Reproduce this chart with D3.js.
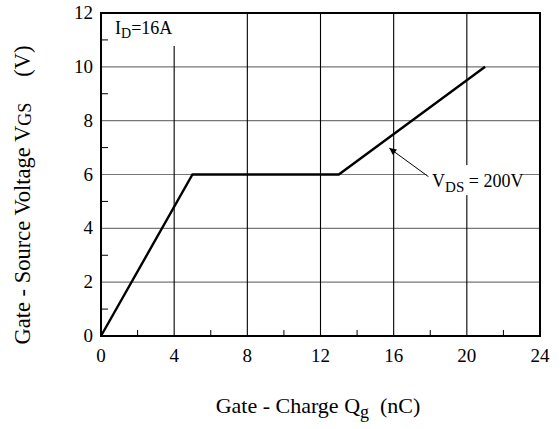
<!DOCTYPE html>
<html>
<head>
<meta charset="utf-8">
<script src="https://cdn.jsdelivr.net/npm/d3@7"></script>
<style>
  body { margin: 0; background: #fff; }
</style>
</head>
<body>
<div id="chart"></div>
<script>
// data
var charge = [0, 5, 13, 21];      // Qg (nC)
var voltage = [0, 6, 6, 10];      // VGS (V)
var xTicks = [0, 4, 8, 12, 16, 20, 24];
var yTicks = [0, 2, 4, 6, 8, 10, 12];
var xMinor = [2, 6, 10, 14, 18, 22];
var yMinor = [1, 3, 5, 7, 9, 11];
var arrowFrom = [17.9, 5.92];
var arrowTo = [15.76, 6.98];

var width = 560, height = 429;
var margin = {left: 101, top: 13, right: 20, bottom: 93};
var w = width - margin.left - margin.right;
var h = height - margin.top - margin.bottom;

var svg = d3.select("#chart").append("svg")
  .attr("width", width).attr("height", height)
  .attr("font-family", "'Liberation Serif', 'Times New Roman', Times, serif");

var defs = svg.append("defs");
defs.append("marker")
  .attr("id", "arr").attr("viewBox", "0 0 10 10")
  .attr("refX", 10).attr("refY", 5)
  .attr("markerWidth", 9).attr("markerHeight", 7)
  .attr("markerUnits", "userSpaceOnUse")
  .attr("orient", "auto")
  .append("path").attr("d", "M0,0 L10,5 L0,10 z").attr("fill", "#000");

var g = svg.append("g").attr("transform", `translate(${margin.left},${margin.top})`);

var x = d3.scaleLinear().domain([0, 24]).range([0, w]);
var y = d3.scaleLinear().domain([0, 12]).range([h, 0]);

// grid
g.append("g").selectAll("line")
  .data(yTicks.slice(1, -1)).enter().append("line")
  .attr("x1", 0).attr("x2", w)
  .attr("y1", d => y(d)).attr("y2", d => y(d))
  .attr("stroke", "#777").attr("stroke-width", 1.2);

g.append("g").selectAll("line")
  .data(xTicks.slice(1, -1)).enter().append("line")
  .attr("y1", 0).attr("y2", h)
  .attr("x1", d => x(d)).attr("x2", d => x(d))
  .attr("stroke", "#000").attr("stroke-width", 1.1);

// minor ticks
g.append("g").selectAll("line")
  .data(yMinor).enter().append("line")
  .attr("x1", 0).attr("x2", 7)
  .attr("y1", d => y(d)).attr("y2", d => y(d))
  .attr("stroke", "#000").attr("stroke-width", 1);

g.append("g").selectAll("line")
  .data(xMinor).enter().append("line")
  .attr("y1", h).attr("y2", h - 6)
  .attr("x1", d => x(d)).attr("x2", d => x(d))
  .attr("stroke", "#000").attr("stroke-width", 1);

// white boxes behind the labels
g.append("rect").attr("x", 9).attr("y", 1).attr("width", 70).attr("height", 32).attr("fill", "#fff");
g.append("rect").attr("x", x(17.8)).attr("y", y(6.35)).attr("width", 96).attr("height", 30).attr("fill", "#fff");

// curve
var line = d3.line().x(d => x(d[0])).y(d => y(d[1]));
g.append("path")
  .datum(d3.zip(charge, voltage))
  .attr("d", line)
  .attr("fill", "none").attr("stroke", "#000").attr("stroke-width", 2.4)
  .attr("stroke-linejoin", "miter");

// arrow
g.append("line")
  .attr("x1", x(arrowFrom[0])).attr("y1", y(arrowFrom[1]))
  .attr("x2", x(arrowTo[0])).attr("y2", y(arrowTo[1]))
  .attr("stroke", "#000").attr("stroke-width", 1)
  .attr("marker-end", "url(#arr)");

// frame
g.append("rect").attr("width", w).attr("height", h)
  .attr("fill", "none").attr("stroke", "#000").attr("stroke-width", 2);

// tick labels
g.append("g").selectAll("text")
  .data(xTicks).enter().append("text")
  .attr("x", d => x(d)).attr("y", h + 26)
  .attr("text-anchor", "middle").attr("font-size", 19)
  .text(d => d);

g.append("g").selectAll("text")
  .data(yTicks).enter().append("text")
  .attr("x", -8).attr("y", d => y(d) + 6)
  .attr("text-anchor", "end").attr("font-size", 19)
  .text(d => d);

// annotations
var id = g.append("text").attr("x", 14).attr("y", 21).attr("font-size", 18);
id.append("tspan").text("I");
id.append("tspan").attr("dy", 4).attr("font-size", 14).text("D");
id.append("tspan").attr("dy", -4).text("=16A");

var vds = g.append("text").attr("x", x(18.1)).attr("y", y(6) + 12).attr("font-size", 18);
vds.append("tspan").text("V");
vds.append("tspan").attr("dy", 5).attr("font-size", 15).text("DS");
vds.append("tspan").attr("dy", -5).text(" = 200V");

// axis titles
var xt = svg.append("text").attr("x", 318).attr("y", 413)
  .attr("text-anchor", "middle").attr("font-size", 22);
xt.append("tspan").text("Gate - Charge Q");
xt.append("tspan").attr("dy", 5).attr("font-size", 18).text("g");
xt.append("tspan").attr("dy", -5).text("\u00a0\u00a0(nC)");

var yt = svg.append("text")
  .attr("transform", "translate(30,195) rotate(-90)")
  .attr("text-anchor", "middle").attr("font-size", 22.5);
yt.append("tspan").text("Gate - Source Voltage V");
yt.append("tspan").attr("dy", 1).attr("font-size", 18).text("GS");
yt.append("tspan").attr("dy", -1).attr("dx", 26).text("(V)");
</script>
</body>
</html>
